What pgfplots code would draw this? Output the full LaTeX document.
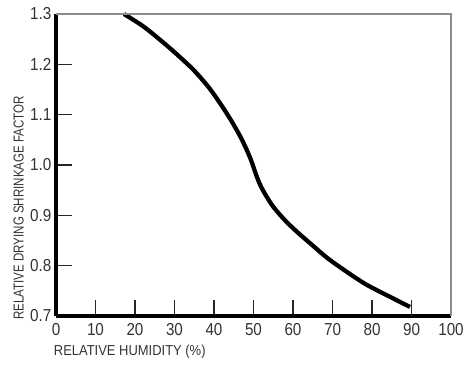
\documentclass[border=0pt]{standalone}
\usepackage{pgfplots}
\pgfplotsset{compat=1.18}
\usepackage{fontspec}
\setmainfont{Liberation Sans}
\newfontfamily\condtick[FakeStretch=0.88]{Liberation Sans}
\newfontfamily\condx[FakeStretch=0.90]{Liberation Sans}
\newfontfamily\condy[FakeStretch=0.80]{Liberation Sans}
\definecolor{txt}{HTML}{333333}
\begin{document}
\begin{tikzpicture}
\begin{axis}[
  scale only axis,
  width=296.25pt, height=226.5pt,
  xmin=0, xmax=100, ymin=0.7, ymax=1.3,
  axis x line*=bottom, axis y line*=left,
  axis line style={line width=2.4pt, black, -},
  xtick={10,20,...,90}, ytick={0.8,0.9,...,1.21},
  extra x ticks={0,100}, extra y ticks={0.7,1.3},
  extra tick style={major tick length=0pt},
  tick align=inside,
  major tick length=12pt,
  every tick/.style={line width=0.8pt, black!85},
  /pgf/number format/assume math mode=true,
  /pgf/number format/fixed, /pgf/number format/fixed zerofill,
  yticklabel style={/pgf/number format/precision=1, font=\condtick\fontsize{13}{15}\selectfont, text=txt, xshift=0pt},
  xticklabel style={/pgf/number format/precision=0, font=\condtick\fontsize{13}{15}\selectfont, text=txt, yshift=-2pt},
  xticklabel={\pgfmathprintnumber[fixed,precision=0]{\tick}},
  xlabel={RELATIVE HUMIDITY (\%)},
  ylabel={RELATIVE DRYING SHRINKAGE FACTOR},
  xlabel style={font=\condx\fontsize{10.8}{12}\selectfont, text=txt, at={(axis description cs:-0.006,-0.095)}, anchor=north west, inner sep=0pt},
  ylabel style={font=\condy\fontsize{10.8}{12}\selectfont, text=txt, at={(axis description cs:-0.081,-0.013)}, anchor=south west, inner sep=0pt},
  clip=false,
]
\addplot[line width=3.2pt, black, smooth] coordinates {
  (17.2,1.300) (22.0,1.276) (26.3,1.249) (30.3,1.222) (34.8,1.189)
  (38.6,1.155) (41.6,1.122) (44.3,1.089) (46.7,1.056) (48.4,1.028)
  (49.6,1.005) (50.6,0.982) (51.6,0.962) (52.8,0.944) (55.0,0.917)
  (58.0,0.890) (60.9,0.868) (65.0,0.840) (69.4,0.811) (77.8,0.766)
  (84.6,0.738) (89.6,0.718)
};
\draw[gray!90, line width=1pt] (rel axis cs:0,1) -- (rel axis cs:1,1) -- (rel axis cs:1,0);
\draw[black!85, line width=0.8pt] (axis cs:90,0.70) -- (axis cs:90,0.725);
\coordinate (O) at (rel axis cs:0,0);
\end{axis}
\pgfresetboundingbox
\path (O) ++(-42pt,-36.75pt) rectangle ++(348pt,273.75pt);
\end{tikzpicture}
\end{document}
